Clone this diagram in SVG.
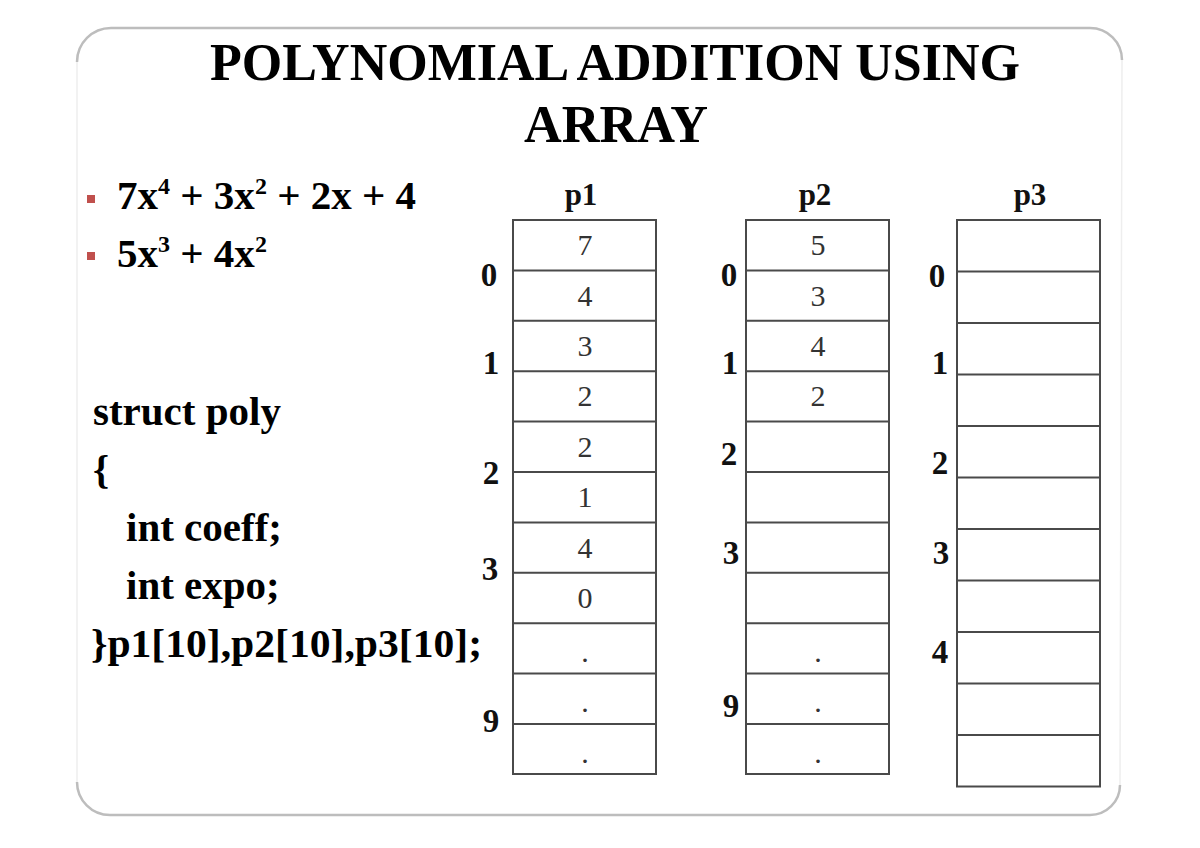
<svg xmlns="http://www.w3.org/2000/svg" width="1200" height="848" viewBox="0 0 1200 848">
<style>
.t{font-family:"Liberation Serif","Times New Roman",serif;font-weight:bold;fill:#000}
.v{font-family:"Liberation Serif","Times New Roman",serif;font-size:30px;fill:#333;text-anchor:middle}
.ix{font-family:"Liberation Serif","Times New Roman",serif;font-weight:bold;font-size:33px;fill:#111;text-anchor:middle}
.hd{font-family:"Liberation Serif","Times New Roman",serif;font-weight:bold;font-size:31px;fill:#111;text-anchor:middle}
.cell{fill:#fff;stroke:#4a4a4a;stroke-width:2}
.ln{stroke:#4a4a4a;stroke-width:2}
.fr{fill:none;stroke:#bdbdbd;stroke-width:2.5}
.bl{fill:#c0504d}
</style>
<rect width="1200" height="848" fill="#fff"/>
<g id="frame">
<path class="fr" d="M77,62 A34,34 0 0 1 111,28 L1090,28 A32,32 0 0 1 1122,60"/>
<path class="fr" d="M77,782 A33,33 0 0 0 110,815 L1090,815 A30,30 0 0 0 1120,785"/>
<path d="M77,62 L77,782 M1122,60 L1120,785" fill="none" stroke="#eeeeee" stroke-width="1.5"/>
</g>
<g id="title">
<text class="t" x="615" y="80" font-size="53" text-anchor="middle" textLength="810" lengthAdjust="spacingAndGlyphs">POLYNOMIAL ADDITION USING</text>
<text class="t" x="616" y="142" font-size="53" text-anchor="middle" textLength="184" lengthAdjust="spacingAndGlyphs">ARRAY</text>
</g>
<g id="bullets">
<rect class="bl" x="87" y="195" width="8" height="8"/>
<rect class="bl" x="87" y="252" width="8" height="8"/>
<text class="t" x="117" y="209" font-size="41">7x<tspan font-size="24" dy="-15">4</tspan><tspan dy="15"> + 3x</tspan><tspan font-size="24" dy="-15">2</tspan><tspan dy="15"> + 2x + 4</tspan></text>
<text class="t" x="117" y="267" font-size="41">5x<tspan font-size="24" dy="-15">3</tspan><tspan dy="15"> + 4x</tspan><tspan font-size="24" dy="-15">2</tspan></text>
</g>
<g id="code">
<text class="t" x="93" y="425" font-size="41">struct poly</text>
<text class="t" x="93" y="483" font-size="41">{</text>
<text class="t" x="126" y="541" font-size="41">int coeff;</text>
<text class="t" x="126" y="599" font-size="41">int expo;</text>
<text class="t" x="91" y="657" font-size="41" textLength="391" lengthAdjust="spacingAndGlyphs">}p1[10],p2[10],p3[10];</text>
</g>
<g id="p1">
<text class="hd" x="581" y="205">p1</text>
<rect class="cell" x="513" y="220" width="143" height="554"/>
<path class="ln" d="M513,270.4H656M513,320.8H656M513,371.2H656M513,421.6H656M513,472H656M513,522.4H656M513,572.8H656M513,623.2H656M513,673.6H656M513,724H656"/>
<text class="v" x="585" y="255">7</text>
<text class="v" x="585" y="306">4</text>
<text class="v" x="585" y="356">3</text>
<text class="v" x="585" y="406">2</text>
<text class="v" x="585" y="457">2</text>
<text class="v" x="585" y="507">1</text>
<text class="v" x="585" y="558">4</text>
<text class="v" x="585" y="608">0</text>
<text class="v" x="585" y="662">.</text>
<text class="v" x="585" y="712">.</text>
<text class="v" x="585" y="763">.</text>
<text class="ix" x="489" y="286">0</text>
<text class="ix" x="491" y="374">1</text>
<text class="ix" x="491" y="484">2</text>
<text class="ix" x="490" y="580">3</text>
<text class="ix" x="491" y="732">9</text>
</g>
<g id="p2">
<text class="hd" x="815" y="205">p2</text>
<rect class="cell" x="746" y="220" width="143" height="554"/>
<path class="ln" d="M746,270.4H889M746,320.8H889M746,371.2H889M746,421.6H889M746,472H889M746,522.4H889M746,572.8H889M746,623.2H889M746,673.6H889M746,724H889"/>
<text class="v" x="818" y="255">5</text>
<text class="v" x="818" y="306">3</text>
<text class="v" x="818" y="356">4</text>
<text class="v" x="818" y="406">2</text>
<text class="v" x="818" y="662">.</text>
<text class="v" x="818" y="712">.</text>
<text class="v" x="818" y="763">.</text>
<text class="ix" x="729" y="286">0</text>
<text class="ix" x="730" y="374">1</text>
<text class="ix" x="729" y="465">2</text>
<text class="ix" x="731" y="564">3</text>
<text class="ix" x="731" y="717">9</text>
</g>
<g id="p3">
<text class="hd" x="1030" y="205">p3</text>
<rect class="cell" x="957" y="220" width="143" height="566.5"/>
<path class="ln" d="M957,271.5H1100M957,323H1100M957,374.5H1100M957,426H1100M957,477.5H1100M957,529H1100M957,580.5H1100M957,632H1100M957,683.5H1100M957,735H1100"/>
<text class="ix" x="937" y="287">0</text>
<text class="ix" x="940" y="374">1</text>
<text class="ix" x="940" y="474">2</text>
<text class="ix" x="941" y="564">3</text>
<text class="ix" x="940" y="663">4</text>
</g>
</svg>
